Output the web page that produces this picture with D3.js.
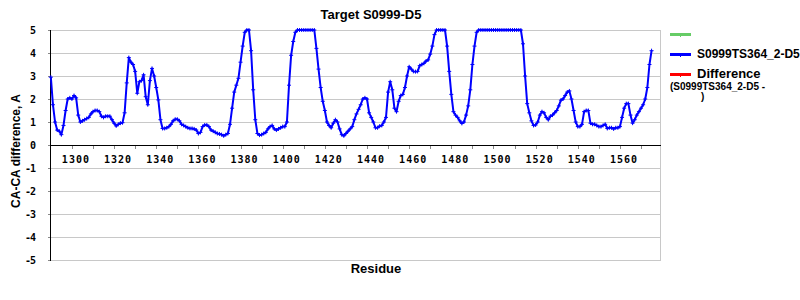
<!DOCTYPE html>
<html lang="en">
<head>
    <meta charset="UTF-8">
    <title>Target S0999-D5</title>
    <script src="https://d3js.org/d3.v7.min.js"></script>
    <style>
        body {
            margin: 0;
            background-color: #ffffff;
        }

        svg {
            display: block;
        }

        .title, .axis-title, .legend text {
            font-family: 'Liberation Sans', Arial, sans-serif;
            font-weight: bold;
            fill: #000;
        }

        .tick-label {
            font-family: 'DejaVu Sans Mono', monospace;
            font-weight: bold;
            font-size: 10px;
            fill: #000;
        }
    </style>
</head>
<body>
    <svg id="chart" width="800" height="300"></svg>

    <script>
        // residue numbers run from firstResidue, one value per residue
        const firstResidue = 1290;
        const caDiff = [
            2.95, 1.75, 1.0, 0.65, 0.6, 0.45, 0.85, 1.5, 2.0, 2.05,
            2.0, 2.15, 2.05, 1.3, 1.0, 1.05, 1.1, 1.15, 1.2, 1.35,
            1.45, 1.5, 1.5, 1.45, 1.25, 1.2, 1.25, 1.25, 1.25, 1.1,
            0.95, 0.83, 0.9, 0.95, 0.97, 1.4, 2.7, 3.8, 3.6, 3.5,
            3.2, 2.25, 2.75, 2.8, 3.05, 2.1, 1.75, 2.8, 3.33, 3.0,
            2.5, 1.96, 1.1, 0.72, 0.72, 0.75, 0.8, 0.9, 1.05, 1.12,
            1.12, 1.05, 0.9, 0.85, 0.8, 0.75, 0.72, 0.72, 0.7, 0.65,
            0.5, 0.55, 0.8, 0.87, 0.87, 0.8, 0.65, 0.6, 0.55, 0.5,
            0.48, 0.45, 0.4, 0.45, 0.5, 0.9, 1.6, 2.3, 2.6, 2.9,
            3.6, 4.3, 4.9, 5, 5, 4.1, 2.4, 1.1, 0.5, 0.43,
            0.45, 0.5, 0.55, 0.7, 0.8, 0.85, 0.7, 0.65, 0.7, 0.75,
            0.8, 0.8, 1.0, 2.6, 3.9, 4.5, 4.9, 5, 5, 5,
            5, 5, 5, 5, 5, 5, 4.2, 3.3, 2.5, 1.9,
            1.5, 1.0, 0.85, 0.75, 0.95, 1.1, 1.0, 0.7, 0.45, 0.4,
            0.5, 0.6, 0.7, 0.8, 1.1, 1.35, 1.55, 1.75, 2.0, 2.05,
            2.0, 1.4, 1.2, 1.0, 0.75, 0.75, 0.82, 0.85, 1.0, 1.2,
            2.3, 2.75, 2.4, 1.6, 1.45, 1.9, 2.15, 2.2, 2.5, 3.0,
            3.4, 3.3, 3.2, 3.19, 3.2, 3.45, 3.5, 3.55, 3.65, 3.7,
            3.95, 4.3, 4.8, 5, 5, 5, 5, 5, 4.3, 3.2,
            2.2, 1.45, 1.3, 1.2, 1.05, 0.94, 1.0, 1.3, 1.7, 2.4,
            3.5, 4.3, 4.9, 5, 5, 5, 5, 5, 5, 5,
            5, 5, 5, 5, 5, 5, 5, 5, 5, 5,
            5, 5, 5, 5, 4.4, 3.0, 1.8, 1.4, 1.05, 0.85,
            0.87, 1.0, 1.3, 1.45, 1.4, 1.2, 1.1, 1.25, 1.3, 1.4,
            1.5, 1.7, 1.95, 2.0, 2.15, 2.3, 2.35, 2.0, 1.5, 1.0,
            0.8, 0.8, 0.9, 1.45, 1.5, 1.5, 0.95, 0.9, 0.9, 0.85,
            0.8, 0.8, 0.85, 0.9, 0.72, 0.75, 0.75, 0.7, 0.75, 0.75,
            0.8, 1.2, 1.6, 1.8, 1.8, 1.3, 0.95, 1.1, 1.3, 1.45,
            1.6, 1.75, 2.0, 2.5, 3.5, 4.1
        ];

        const xTickValues = d3.range(1300, 1571, 10);
        const xTickLabels = ["1300", "1320", "1340", "1360", "1380", "1400", "1420",
                             "1440", "1460", "1480", "1500", "1520", "1540", "1560"];
        const yTickValues = [5, 4, 3, 2, 1, 0, -1, -2, -3, -4, -5];
        const yTickLabels = ["5", "4", "3", "2", "1", "0", "-1", "-2", "-3", "-4", "-5"];

        const legendItems = [
            { label: "", color: "#66cc66" },
            { label: "S0999TS364_2-D5", color: "#0000ff" },
            { label: "Difference", color: "#ff0000" }
        ];

        const points = caDiff.map((v, i) => ({ residue: firstResidue + i, value: v }));

        const svg = d3.select("#chart");
        const plotLeft = 50, plotRight = 660, plotTop = 30, plotBottom = 260;

        const x = d3.scaleLinear().domain([1289.6, 1579]).range([plotLeft, plotRight]);
        const y = d3.scaleLinear().domain([-5, 5]).range([plotBottom, plotTop]);

        // grid + frame
        svg.append("g")
            .selectAll("line")
            .data(yTickValues.filter(v => v !== 0))
            .enter()
            .append("line")
            .attr("x1", plotLeft)
            .attr("x2", plotRight)
            .attr("y1", d => y(d) + 0.5)
            .attr("y2", d => y(d) + 0.5)
            .style("stroke", "#c8c8c8")
            .style("stroke-width", 1);

        svg.append("line")
            .attr("x1", plotRight + 0.5).attr("x2", plotRight + 0.5)
            .attr("y1", plotTop).attr("y2", plotBottom + 1)
            .style("stroke", "#c8c8c8");

        // y axis
        const yAxis = svg.append("g");
        yAxis.append("line")
            .attr("x1", plotLeft + 0.5).attr("x2", plotLeft + 0.5)
            .attr("y1", plotTop).attr("y2", plotBottom + 1)
            .style("stroke", "#000");
        yAxis.selectAll("line.tick")
            .data(yTickValues)
            .enter()
            .append("line")
            .attr("class", "tick")
            .attr("x1", plotLeft - 2).attr("x2", plotLeft)
            .attr("y1", d => y(d) + 0.5).attr("y2", d => y(d) + 0.5)
            .style("stroke", "#888");
        yAxis.selectAll("text")
            .data(yTickValues)
            .enter()
            .append("text")
            .attr("class", "tick-label")
            .attr("x", 35)
            .attr("y", d => y(d) + 4)
            .attr("text-anchor", "end")
            .style("letter-spacing", "-1px")
            .text((d, i) => yTickLabels[i]);

        // x axis on the zero line
        const xAxis = svg.append("g");
        xAxis.append("line")
            .attr("x1", plotLeft).attr("x2", plotRight + 1)
            .attr("y1", y(0) + 0.5).attr("y2", y(0) + 0.5)
            .style("stroke", "#000");
        xAxis.selectAll("line.tick")
            .data(xTickValues)
            .enter()
            .append("line")
            .attr("class", "tick")
            .attr("x1", d => Math.round(x(d)) + 0.5)
            .attr("x2", d => Math.round(x(d)) + 0.5)
            .attr("y1", y(0) + 1).attr("y2", y(0) + 4)
            .style("stroke", "#888");
        xAxis.selectAll("text")
            .data(xTickLabels)
            .enter()
            .append("text")
            .attr("class", "tick-label")
            .attr("x", d => x(+d) + 4)
            .attr("y", 163)
            .attr("text-anchor", "middle")
            .style("letter-spacing", "1px")
            .text(d => d);

        // data line
        const line = d3.line()
            .x(d => x(d.residue))
            .y(d => y(d.value));

        svg.append("path")
            .datum(points)
            .attr("d", line)
            .style("fill", "none")
            .style("stroke", "#0000ff")
            .style("stroke-width", 2)
            .style("stroke-linejoin", "round");

        svg.append("g")
            .selectAll("path")
            .data(points)
            .enter()
            .append("path")
            .attr("d", d => {
                const px = x(d.residue), py = y(d.value);
                return `M${px - 2},${py}H${px + 2}M${px},${py - 2}V${py + 2}`;
            })
            .style("stroke", "#0000ff")
            .style("stroke-width", 1);

        // titles
        svg.append("text")
            .attr("class", "title")
            .attr("x", 371)
            .attr("y", 19)
            .attr("text-anchor", "middle")
            .style("font-size", "13px")
            .text("Target S0999-D5");

        svg.append("text")
            .attr("class", "axis-title")
            .attr("x", 376)
            .attr("y", 273)
            .attr("text-anchor", "middle")
            .style("font-size", "13px")
            .text("Residue");

        svg.append("text")
            .attr("class", "axis-title")
            .attr("transform", "translate(20,151) rotate(-90)")
            .attr("text-anchor", "middle")
            .style("font-size", "12px")
            .text("CA-CA difference, A");

        // legend
        const legend = svg.append("g").attr("class", "legend");
        legendItems.forEach((item, i) => {
            const ly = 34 + i * 20;
            legend.append("line")
                .attr("x1", 670).attr("x2", 691)
                .attr("y1", ly + 0.5).attr("y2", ly + 0.5)
                .style("stroke", item.color)
                .style("stroke-width", 3);
            legend.append("line")
                .attr("x1", 680.5).attr("x2", 680.5)
                .attr("y1", ly - 1).attr("y2", ly + 3)
                .style("stroke", item.color);
            legend.append("text")
                .attr("x", 697)
                .attr("y", ly + 4)
                .style("font-size", i === 2 ? "13px" : "12px")
                .text(item.label);
        });
        legend.append("text")
            .attr("x", 670)
            .attr("y", 90)
            .style("font-size", "10px")
            .text("(S0999TS364_2-D5 -");
        legend.append("text")
            .attr("x", 701)
            .attr("y", 100)
            .style("font-size", "10px")
            .text(")");
    </script>
</body>
</html>
